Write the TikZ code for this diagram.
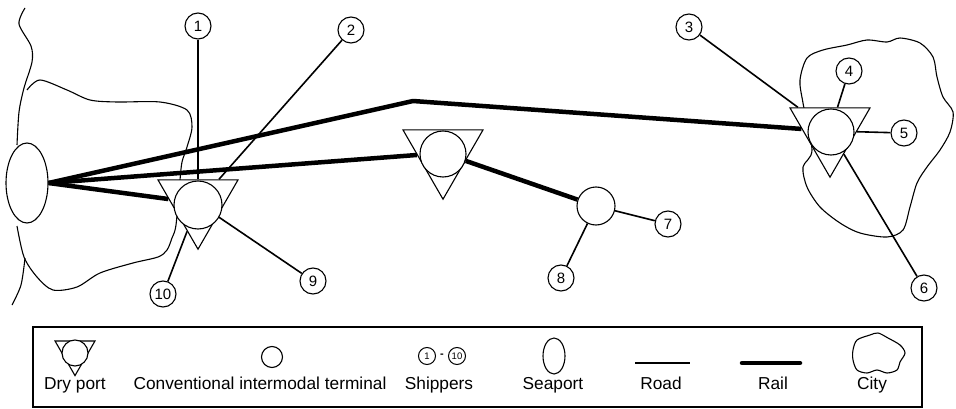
\documentclass[tikz,border=0pt]{standalone}
\usepackage{fontspec}
\setmainfont{Liberation Sans}
\usetikzlibrary{shapes.geometric}
\pgfdeclarelayer{back}
\pgfsetlayers{back,main}

\tikzset{
  outline/.style={line width=1.1pt},
  road/.style={line width=1.6pt},
  rail/.style={line width=4.5pt},
  shipper/.style={circle, draw, line width=1.1pt, fill=white, minimum size=26pt,
    inner sep=0pt, font=\fontsize{15}{15}\selectfont},
  smallshipper/.style={circle, draw, line width=1pt, fill=white, minimum size=17pt,
    inner sep=0pt, font=\fontsize{9.5}{9.5}\selectfont},
  drytri/.style={regular polygon, regular polygon sides=3, shape border rotate=180,
    draw, line width=1.1pt, fill=white, minimum size=#1, inner sep=0pt},
  hub/.style={circle, draw, line width=1.1pt, fill=white, minimum size=#1, inner sep=0pt},
  port/.style={ellipse, draw, line width=1.1pt, fill=white, inner sep=0pt},
  legendtext/.style={anchor=base, inner sep=0pt, font=\fontsize{17.3}{17.3}\selectfont},
}

\begin{document}
\begin{tikzpicture}[x=1pt, y=-1pt]
\useasboundingbox (0,0) rectangle (956,409);

% ---------- seaport ----------
\node[port, minimum width=42pt, minimum height=80pt] (sea) at (27,183) {};

% ---------- dry ports ----------
\node[drytri=92.4pt] (dp1) at (198,203) {};
\node[hub=48pt] (dp1c) at (198,205) {};
\node[drytri=92.4pt] (dp2) at (443,153) {};
\node[hub=46pt] (dp2c) at (443,154) {};
\node[drytri=92.4pt] (dp3) at (830,131) {};
\node[hub=46pt] (dp3c) at (831,132) {};

% ---------- conventional intermodal terminal ----------
\node[hub=38pt] (term) at (596,206) {};

% ---------- shippers ----------
\node[shipper] (s1) at (198,26) {1};
\node[shipper] (s2) at (351,30) {2};
\node[shipper] (s3) at (689,27) {3};
\node[shipper] (s4) at (849,71) {4};
\node[shipper] (s5) at (904,133) {5};
\node[shipper] (s6) at (924,288) {6};
\node[shipper] (s7) at (668,224) {7};
\node[shipper] (s8) at (561,278) {8};
\node[shipper] (s9) at (313,281) {9};
\node[shipper] (s10) at (163,294) {10};

\coordinate (bend) at (413,101);

\begin{pgfonlayer}{back}
  % coastline and hinterland
  \draw[outline] plot[smooth] coordinates {(25,8) (19,24) (31,46) (32,62) (24,88)
    (19,112) (17,145)};
  \draw[outline] plot[smooth] coordinates {(25,258) (21,285) (12,305)};
  \draw[outline] plot[smooth] coordinates {(27,90) (40,80) (67,90) (90,100) (117,102)
    (160,102) (187,110) (192,127) (187,147) (182,162) (180,180) (176,225) (172,238)
    (167,250) (158,257) (133,263) (100,273) (77,287) (53,290) (37,277) (24,257)
    (17,226)};
  % city
  \draw[outline] plot[smooth cycle] coordinates {(803,103) (800,80) (807,58) (823,50)
    (847,45) (867,40) (887,42) (900,38) (920,43) (933,57) (937,77) (943,97) (953,112)
    (950,132) (940,150) (927,167) (917,183) (910,207) (903,230) (887,237) (860,233)
    (840,223) (820,207) (807,187) (803,167) (812,150)};

  % rail
  \draw[rail, line join=round] (sea.east) -- (bend) -- (dp3);
  \draw[rail] (sea.east) -- (dp2);
  \draw[rail] (sea.east) -- (dp1);
  \draw[rail] (dp2) -- (term);

  % road
  \draw[road] (s1) -- (dp1);
  \draw[road] (s2) -- (dp1);
  \draw[road] (s9) -- (dp1);
  \draw[road] (s10) -- (dp1);
  \draw[road] (s3) -- (dp3);
  \draw[road] (s4) -- (dp3);
  \draw[road] (s5) -- (dp3);
  \draw[road] (s6) -- (dp3);
  \draw[road] (s7) -- (term);
  \draw[road] (s8) -- (term);
\end{pgfonlayer}

% ---------- legend ----------
\draw[outline] (33,327) rectangle (922,407);

\node[drytri=46.2pt] (ldp) at (75,352.5) {};
\node[hub=26pt] (ldpc) at (75,353) {};
\node[legendtext] (tdp) at (75,389) {Dry port};

\node[hub=21pt] (lterm) at (272,357) {};
\node[legendtext] (tterm) at (260,389) {Conventional intermodal terminal};

\node[smallshipper] (lsa) at (427,356) {1};
\node[smallshipper] (lsb) at (457,356) {10};
\node[inner sep=0pt, font=\fontsize{11}{11}\selectfont\bfseries] (ldash) at (442,356) {-};
\node[legendtext] (tship) at (439,389) {Shippers};

\node[port, minimum width=22pt, minimum height=36pt] (lsea) at (554,356) {};
\node[legendtext] (tsea) at (553,389) {Seaport};

\coordinate (lroada) at (635,363);
\coordinate (lroadb) at (690,363);
\draw[road] (lroada) -- (lroadb);
\node[legendtext] (troad) at (661,389) {Road};

\coordinate (lraila) at (742,363);
\coordinate (lrailb) at (800,363);
\draw[rail, line cap=round] (lraila) -- (lrailb);
\node[legendtext] (trail) at (773,389) {Rail};

\draw[outline] plot[smooth cycle] coordinates {(857,340) (870,335) (878,333) (888,338)
  (900,345) (905,353) (900,362) (897,370) (887,373) (877,370) (867,373) (857,370)
  (853,360) (853,350)};
\node[legendtext] (tcity) at (872,389) {City};
\end{tikzpicture}
\end{document}
